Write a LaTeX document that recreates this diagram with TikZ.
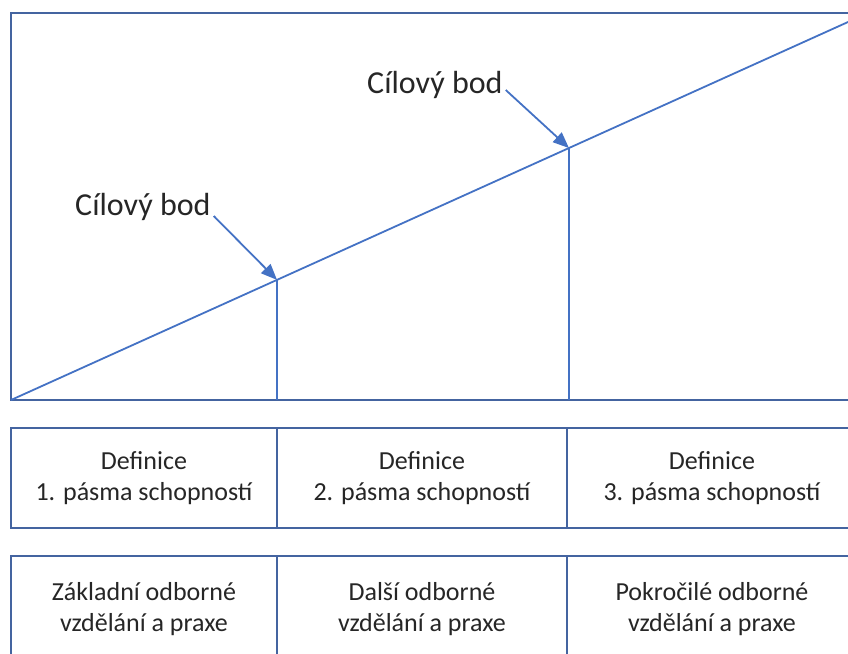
\documentclass[tikz,border=0pt]{standalone}
\usepackage{fontspec}
\setmainfont{Carlito}
\usetikzlibrary{arrows.meta, positioning, calc}
\definecolor{frameBlue}{RGB}{68,100,160}
\definecolor{lineBlue}{RGB}{68,114,196}
\definecolor{textGray}{RGB}{38,38,38}

\begin{document}
\begin{tikzpicture}[x=1pt, y=-1pt,
    cell/.style={draw=frameBlue, line width=1.8pt, minimum height=100pt, outer sep=0pt, inner sep=0pt,
        align=center, text=textGray, font=\fontsize{26}{31.5}\selectfont},
    target/.style={text=textGray, font=\fontsize{32}{38}\selectfont, inner sep=0pt},
    pointer/.style={-{Triangle[length=16pt,width=13pt]}, lineBlue, line width=1.8pt}]
    \useasboundingbox (0,0) rectangle (848,653);
    \clip (0,0) rectangle (848,653);

    % growth line in the frame
    \draw[frameBlue, line width=1.8pt] (11,13) rectangle (860,400);
    \coordinate (O) at (11,400);
    \coordinate (E) at (860,16.6);
    \coordinate (P1) at ($(O)!0.3133!(E)$);
    \coordinate (P2) at ($(O)!0.6572!(E)$);
    \draw[lineBlue, line width=1.8pt] (O) -- (E);
    \draw[lineBlue, line width=1.8pt] (P1) -- (P1 |- O);
    \draw[lineBlue, line width=1.8pt] (P2) -- (P2 |- O);

    \node[target, anchor=base west] (c1) at (75,215) {Cílový bod};
    \node[target, anchor=base west] (c2) at (367,93) {Cílový bod};
    \draw[pointer] ($(c1.base east)+(3,1)$) -- (P1);
    \draw[pointer] ($(c2.base east)+(3,-3)$) -- (P2);

    % definitions
    \node[cell, minimum width=266pt] (d1) at (144,478) {Definice\\1. pásma schopností};
    \node[cell, minimum width=290pt, right=0pt of d1] (d2) {Definice\\2. pásma schopností};
    \node[cell, minimum width=290pt, right=0pt of d2] (d3) {Definice\\3. pásma schopností};

    % education
    \node[cell, minimum width=266pt, minimum height=106pt, below=28pt of d1] (z1) {Základní odborné\\vzdělání a praxe};
    \node[cell, minimum width=290pt, minimum height=106pt, right=0pt of z1] (z2) {Další odborné\\vzdělání a praxe};
    \node[cell, minimum width=290pt, minimum height=106pt, right=0pt of z2] (z3) {Pokročilé odborné\\vzdělání a praxe};
\end{tikzpicture}
\end{document}
